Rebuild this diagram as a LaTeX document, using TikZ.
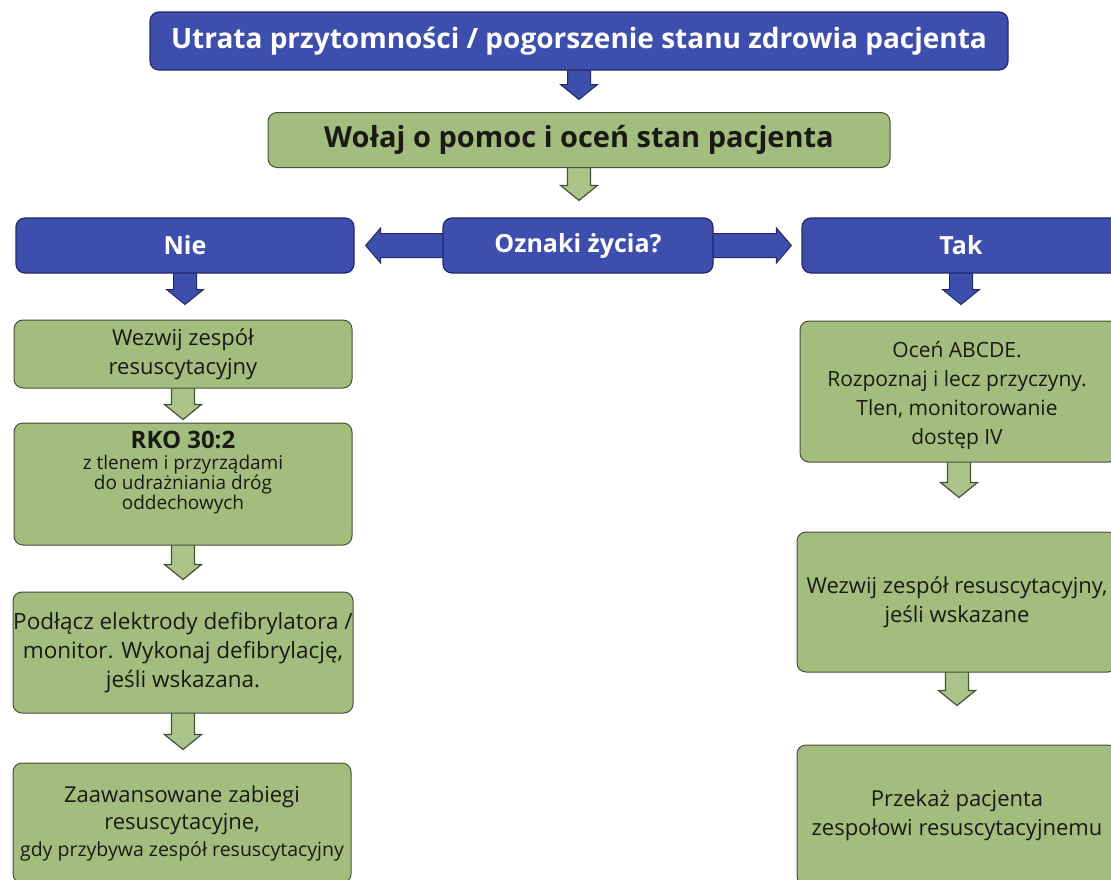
\documentclass[tikz,border=0pt]{standalone}
\usepackage{fontspec}
\setmainfont{Open Sans}
\usetikzlibrary{calc}
\pgfdeclarelayer{background}
\pgfsetlayers{background,main}

\definecolor{boxblue}{RGB}{62,78,172}
\definecolor{blueedge}{RGB}{36,40,105}
\definecolor{boxgreen}{RGB}{163,189,127}
\definecolor{greenedge}{RGB}{70,82,54}
\definecolor{arrowgreen}{RGB}{172,196,138}
\definecolor{inkdark}{RGB}{26,26,20}

\tikzset{
  bluebox/.style={draw=blueedge, line width=1.2pt, fill=boxblue, rounded corners=9pt,
    text=white, inner sep=0pt, align=center},
  greenbox/.style={draw=greenedge, line width=1pt, fill=boxgreen, rounded corners=9pt,
    text=inkdark, inner sep=0pt, align=center},
  bigbold/.style={font=\fontsize{28}{32}\selectfont\bfseries},
  midbold/.style={font=\fontsize{25}{28}\selectfont\bfseries},
  bodytext/.style={font=\fontsize{22}{29}\selectfont},
  bluearrow/.style={fill=boxblue, draw=blueedge, line width=1pt},
  greenarrow/.style={fill=arrowgreen, draw=greenedge, line width=1.2pt},
  % block arrow pointing down; the target gives the height of the tip
  downconn/.style={to path={let \p1=(\tikztostart), \p2=(\tikztotarget) in
    ({\x1-11.5pt},\y1) -- ({\x1-11.5pt},{\y2+15pt}) -- ({\x1-18.5pt},{\y2+15pt})
    -- (\x1,\y2) -- ({\x1+18.5pt},{\y2+15pt}) -- ({\x1+11.5pt},{\y2+15pt})
    -- ({\x1+11.5pt},\y1) -- cycle}},
  % horizontal block arrow; the target gives the position of the tip
  sideconn/.style={to path={let \p1=(\tikztostart), \p2=(\tikztotarget),
    \n1={sign(\x2-\x1)} in
    (\x1,{\y1+12pt}) -- ({\x2-\n1*15pt},{\y1+12pt}) -- ({\x2-\n1*15pt},{\y1+17.5pt})
    -- (\x2,\y1) -- ({\x2-\n1*15pt},{\y1-17.5pt}) -- ({\x2-\n1*15pt},{\y1-12pt})
    -- (\x1,{\y1-12pt}) -- cycle}},
}

\begin{document}
\begin{tikzpicture}[x=1pt, y=-1pt]
\useasboundingbox (0,0) rectangle (1111,879);

% header
\node[bluebox, bigbold, minimum width=858pt, minimum height=58pt] (utrata) at (579,41)
  {Utrata przytomności / pogorszenie stanu zdrowia pacjenta};
\node[greenbox, font=\fontsize{29}{32}\selectfont\bfseries, minimum width=622pt, minimum height=55pt] (wolaj) at (579,140)
  {Wołaj o pomoc i oceń stan pacjenta};

% decision row
\node[bluebox, midbold, minimum width=338pt, minimum height=55pt] (nie) at (185,245.5) {Nie};
\node[bluebox, midbold, minimum width=270pt, minimum height=55pt] (ozn) at (578,245.5) {Oznaki życia?};
\node[bluebox, midbold, minimum width=318pt, minimum height=55pt] (tak) at (961,245.5) {Tak};

% left column
\node[greenbox, bodytext, minimum width=338pt, minimum height=68pt] (wezL) at (183,354)
  {Wezwij zespół\\resuscytacyjny};
\node[greenbox, minimum width=338pt, minimum height=122pt] (rko) at (183,484) {};
\node[text=inkdark, align=center, font=\fontsize{19}{20}\selectfont] (rkotxt) at (183,473)
  {{\fontsize{24}{26}\selectfont\bfseries RKO 30:2}\\[1pt]z tlenem i przyrządami\\do udrażniania dróg\\oddechowych};
\node[greenbox, font=\fontsize{22.5}{29}\selectfont, minimum width=340pt, minimum height=121pt] (pod) at (183,652.5)
  {Podłącz elektrody defibrylatora /\\monitor. Wykonaj defibrylację,\\jeśli wskazana.};
\node[greenbox, minimum width=338pt, minimum height=120pt] (zaaw) at (182,823) {};
\node[text=inkdark, align=center, font=\fontsize{22}{27}\selectfont] (zaawtxt) at (182,823)
  {Zaawansowane zabiegi\\resuscytacyjne,\\{\fontsize{19.5}{27}\selectfont gdy przybywa zespół resuscytacyjny}};

% right column
\node[greenbox, bodytext, minimum width=318pt, minimum height=141pt] (oc) at (959,391.5) {};
\node[text=inkdark, align=center, font=\fontsize{21}{29}\selectfont] (octxt) at (957,395)
  {Oceń ABCDE.\\Rozpoznaj i lecz przyczyny.\\Tlen, monitorowanie\\dostęp IV};
\node[greenbox, bodytext, minimum width=320pt, minimum height=140pt] (wezR) at (957,602)
  {Wezwij zespół resuscytacyjny,\\jeśli wskazane};
\node[greenbox, bodytext, minimum width=320pt, minimum height=140pt] (prz) at (957,815)
  {Przekaż pacjenta\\zespołowi resuscytacyjnemu};

% connectors, drawn beneath the boxes on a white page
\begin{pgfonlayer}{background}
\fill[white] (0,0) rectangle (1111,879);
\draw[bluearrow]  ([yshift=4pt]utrata.south) to[downconn] ([yshift=12.5pt]wolaj.north);
\draw[greenarrow] ([yshift=4pt]wolaj.south)  to[downconn] ([yshift=17pt]ozn.north);
\draw[bluearrow]  ([xshift=6pt]ozn.west)     to[sideconn] ([xshift=11pt]nie.east);
\draw[bluearrow]  ([xshift=-6pt]ozn.east)    to[sideconn] ([xshift=-10pt]tak.west);
\draw[bluearrow]  ([yshift=4pt]nie.south)    to[downconn] ([yshift=15pt]wezL.north);
\draw[bluearrow]  ([yshift=4pt]tak.south)    to[downconn] ([yshift=16pt]oc.north);
\draw[greenarrow] ([yshift=4pt]wezL.south)   to[downconn] ([yshift=3pt]rko.north);
\draw[greenarrow] ([yshift=4pt]rko.south)    to[downconn] ([yshift=12pt]pod.north);
\draw[greenarrow] ([yshift=4pt]pod.south)    to[downconn] ([yshift=13pt]zaaw.north);
\draw[greenarrow] ([yshift=4pt]oc.south)     to[downconn] ([yshift=34pt]wezR.north);
\draw[greenarrow] ([yshift=4pt]wezR.south)   to[downconn] ([yshift=39pt]prz.north);
\end{pgfonlayer}
\end{tikzpicture}
\end{document}
